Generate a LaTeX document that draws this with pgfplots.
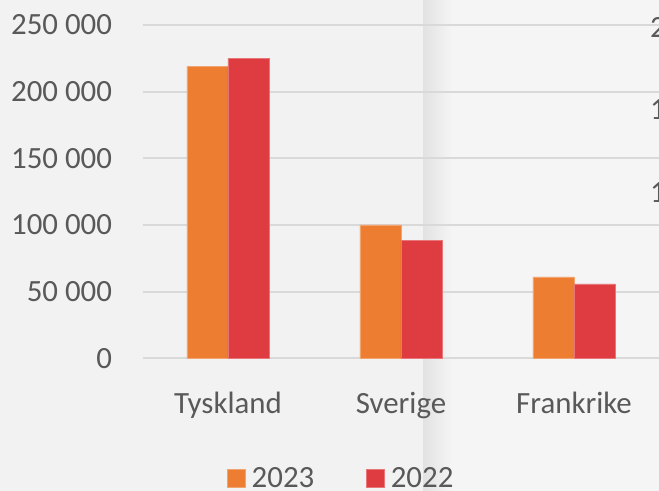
\documentclass[border=0pt]{standalone}
\usepackage{pgfplots}
\pgfplotsset{compat=1.18}
\usepackage{fontspec}
\setmainfont{Carlito}
\definecolor{bgA}{HTML}{F2F2F2}
\definecolor{bgB}{HTML}{F5F5F5}
\definecolor{foldc}{HTML}{E2E2E2}
\definecolor{gridc}{HTML}{D9D9D9}
\definecolor{tickc}{HTML}{595959}
\definecolor{orangeC}{HTML}{ED7D31}
\definecolor{redC}{HTML}{DE3C40}
\begin{document}
\begin{tikzpicture}
\useasboundingbox (0bp,0bp) rectangle (659bp,491bp);
\clip (0bp,0bp) rectangle (659bp,491bp);
\fill[bgA] (0bp,0bp) rectangle (659bp,491bp);
\fill[bgB] (423bp,0bp) rectangle (659bp,491bp);
\shade[left color=foldc, right color=bgB] (423bp,0bp) rectangle (452bp,491bp);
\begin{axis}[
  at={(143.2bp,132.7bp)}, anchor=south west,
  scale only axis, width=517.3bp, height=333.3bp,
  xmin=-0.49, xmax=2.5, ymin=0, ymax=250000,
  scaled y ticks=false,
  ybar=0pt, bar width=41bp,
  xtick={0,1,2}, xticklabels={Tyskland,Sverige,Frankrike},
  ytick={0,50000,100000,150000,200000,250000},
  yticklabels={0,50 000,100 000,150 000,200 000,250 000},
  axis line style={draw=none}, major tick length=0pt,
  ymajorgrids, grid style={color=gridc, line width=1.8bp},
  tick label style={font=\fontsize{31}{36}\selectfont, text=tickc},
  yticklabel style={anchor=east, inner sep=0pt, xshift=-31bp},
  xticklabel style={anchor=base, inner sep=0pt, yshift=-54.7bp},
  legend style={draw=none, fill=none, at={(0.383,-0.359)}, anchor=center,
    legend columns=2, font=\fontsize{31}{36}\selectfont, text=tickc,
    /tikz/every odd column/.append style={column sep=4bp},
    /tikz/every even column/.append style={column sep=50bp}},
  legend image code/.code={\fill[#1] (0bp,-9bp) rectangle (18bp,9bp);},
]
\addplot[fill=orangeC, draw=orangeC!70!white, line width=0.5bp] coordinates {(0,218700) (1,100000) (2,61000)};
\addplot[fill=redC, draw=redC!70!white, line width=0.5bp] coordinates {(0,224700) (1,88700) (2,55800)};
\legend{2023,2022}
\end{axis}
\node[anchor=west, inner sep=0pt, text=tickc, font=\fontsize{31}{36}\selectfont] at (650bp,464bp) {2};
\node[anchor=west, inner sep=0pt, text=tickc, font=\fontsize{31}{36}\selectfont] at (650bp,381bp) {1};
\node[anchor=west, inner sep=0pt, text=tickc, font=\fontsize{31}{36}\selectfont] at (650bp,298bp) {1};
\end{tikzpicture}
\end{document}
